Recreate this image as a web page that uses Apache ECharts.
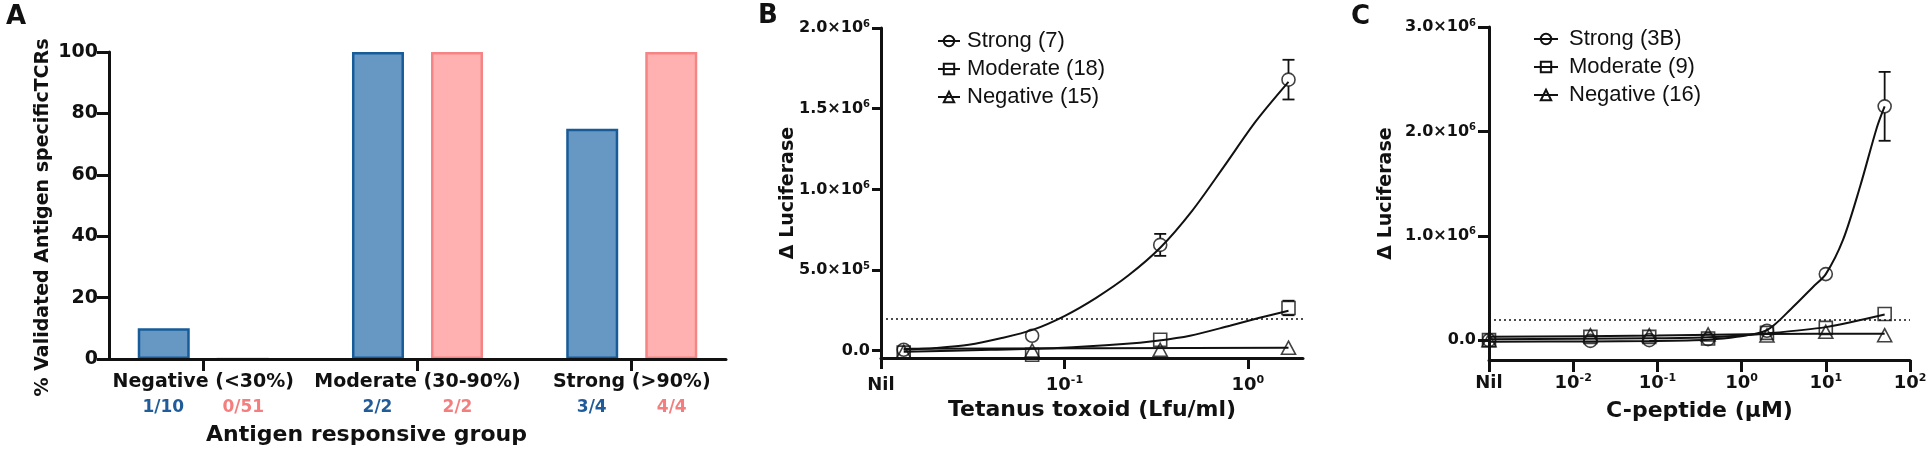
<!DOCTYPE html>
<html>
<head>
<meta charset="utf-8">
<script src="https://cdn.jsdelivr.net/npm/echarts@6/dist/echarts.min.js"></script>
<style>html,body{margin:0;padding:0;background:#fff}#c{width:1928px;height:458px}</style>
</head>
<body>
<div id="c"></div>
<script>
// ---------------- Panel A data ----------------
const groupNames = ['Negative (<30%)', 'Moderate (30-90%)', 'Strong (>90%)'];
const groupPos = [0, 1, 2];
const blueValues = [10, 100, 75];
const pinkValues = [0, 100, 100];
const blueFractions = ['1/10', '2/2', '3/4'];
const pinkFractions = ['0/51', '2/2', '4/4'];

// ---------------- Panel B data ----------------
const bNames = ['Strong (7)', 'Moderate (18)', 'Negative (15)'];
const bDoses = [0.0133, 0.0667, 0.333, 1.667];
const bStrong = [6e3, 9.3e4, 6.56e5, 1.68e6];
const bModerate = [-1.2e4, -2.5e4, 6.8e4, 2.65e5];
const bNegative = [-6e3, 2e3, 6e3, 1.9e4];
const bStrongErr = [0, 0, 6.8e4, 1.23e5];
const bModerateErr = [0, 0, 0, 4.5e4];
const bStrongFit = [[0.0133, 6e3], [0.0199, 1.7e4], [0.0301, 3.7e4], [0.0449, 7.7e4], [0.067, 1.29e5], [0.1, 2.15e5], [0.149, 3.28e5], [0.223, 4.66e5], [0.333, 6.38e5], [0.497, 8.67e5], [0.741, 1.141e6], [1.105, 1.421e6], [1.667, 1.666e6]];
const bModerateFit = [[0.0133, -6e3], [0.0396, 6e3], [0.0916, 1.7e4], [0.209, 4.1e4], [0.32, 6.2e4], [0.484, 9.3e4], [0.798, 1.55e5], [1.16, 2.04e5], [1.667, 2.48e5]];
const bNegativeFit = [[0.0133, 1.2e4], [1.667, 1.9e4]];
const bXTicks = [0.01, 0.1, 1];
const bXLabels = ['Nil', '10{sup|-1}', '10{sup|0}'];
const bYTicks = [0, 5e5, 1e6, 1.5e6, 2e6];
const bYLabels = ['0.0', '5.0×10{sup|5}', '1.0×10{sup|6}', '1.5×10{sup|6}', '2.0×10{sup|6}'];

// ---------------- Panel C data ----------------
const cNames = ['Strong (3B)', 'Moderate (9)', 'Negative (16)'];
const cDoses = [0.001, 0.016, 0.08, 0.4, 2, 10, 50];
const cStrong = [0, -7e3, 0, 1e4, 9e4, 6.33e5, 2.24e6];
const cModerate = [0, 3.2e4, 3.2e4, 1.6e4, 7e4, 1.18e5, 2.5e5];
const cNegative = [0, 4.8e4, 4.8e4, 5.5e4, 4.5e4, 8e4, 4.8e4];
const cStrongErr = [0, 0, 0, 0, 0, 0, 3.3e5];
const cStrongFit = [[0.001, -1.5e4], [0.016, -1.2e4], [0.08, -8e3], [0.4, 5e3], [0.88, 3.2e4], [2.0, 9.6e4], [4.1, 3.2e5], [7.05, 5.1e5], [10, 6.33e5], [16, 9.6e5], [25.5, 1.47e6], [40.5, 2.04e6], [50, 2.24e6]];
const cModerateFit = [[0.001, 8e3], [0.08, 1.8e4], [0.4, 2.8e4], [2, 6.5e4], [10, 1.25e5], [50, 2.45e5]];
const cNegativeFit = [[0.001, 3.2e4], [0.1, 4.4e4], [2, 5.8e4], [50, 6.2e4]];
const cXTicks = [0.001, 0.01, 0.1, 1, 10, 100];
const cXLabels = ['Nil', '10{sup|-2}', '10{sup|-1}', '10{sup|0}', '10{sup|1}', '10{sup|2}'];
const cYTicks = [0, 1e6, 2e6, 3e6];
const cYLabels = ['0.0', '1.0×10{sup|6}', '2.0×10{sup|6}', '3.0×10{sup|6}'];

const threshold = 2e5;

// ---------------- styling helpers ----------------
const BF = 'DejaVu Sans';
const ink = '#111';
const symbols = ['circle', 'rect', 'triangle'];
const symbolSizes = [13, 13, [14, 13]];

function nearestIdx(arr, v, log) {
  let best = 0, bd = Infinity;
  arr.forEach((a, i) => {
    const d = log ? Math.abs(Math.log10(a) - Math.log10(v)) : Math.abs(a - v);
    if (d < bd) { bd = d; best = i; }
  });
  return best;
}
function supRich(size) {
  return { sup: { fontSize: size, fontFamily: BF, fontWeight: 'bold', color: ink, verticalAlign: 'top', lineHeight: size } };
}
const axisLineStyle = { color: ink, width: 3 };
const nameStyle = { fontFamily: BF, fontWeight: 'bold', fontSize: 22, color: ink };

function errRender(params, api) {
  const x = api.value(0), y = api.value(1), e = api.value(2);
  const c = api.coord([x, y]);
  const t = api.coord([x, y + e]);
  const b = api.coord([x, y - e]);
  const hw = 6, r = 6.5;
  const st = { stroke: ink, lineWidth: 1.8 };
  const ch = [];
  if (c[1] - t[1] > r) ch.push({ type: 'line', shape: { x1: c[0], y1: t[1], x2: c[0], y2: c[1] - r }, style: st });
  if (b[1] - c[1] > r) ch.push({ type: 'line', shape: { x1: c[0], y1: c[1] + r, x2: c[0], y2: b[1] }, style: st });
  ch.push({ type: 'line', shape: { x1: c[0] - hw, y1: t[1], x2: c[0] + hw, y2: t[1] }, style: st });
  ch.push({ type: 'line', shape: { x1: c[0] - hw, y1: b[1], x2: c[0] + hw, y2: b[1] }, style: st });
  return { type: 'group', children: ch };
}

function fitSeries(name, data, k, axisIdx, withThreshold) {
  const s = {
    type: 'line', name: name, xAxisIndex: axisIdx, yAxisIndex: axisIdx,
    data: data, smooth: 0.3, symbol: symbols[k], symbolSize: symbolSizes[k], showSymbol: false,
    itemStyle: { color: 'rgba(255,255,255,0)', borderColor: ink, borderWidth: 1.6 },
    lineStyle: { color: ink, width: 2 }, silent: true, z: 2
  };
  if (withThreshold) {
    s.markLine = { silent: true, symbol: 'none', label: { show: false },
      lineStyle: { type: [2, 3], color: ink, width: 1.5 }, data: [{ yAxis: threshold }] };
  }
  return s;
}
function markerSeries(name, doses, vals, k, axisIdx) {
  return {
    type: 'scatter', name: name, xAxisIndex: axisIdx, yAxisIndex: axisIdx,
    data: doses.map((d, i) => [d, vals[i]]), symbol: symbols[k], symbolSize: symbolSizes[k],
    itemStyle: { color: 'rgba(255,255,255,0)', borderColor: ink, borderWidth: 1.6 }, silent: true, z: 3
  };
}
function errSeries(doses, vals, errs, axisIdx) {
  const d = [];
  doses.forEach((x, i) => { if (errs[i] > 0) d.push([x, vals[i], errs[i]]); });
  return { type: 'custom', xAxisIndex: axisIdx, yAxisIndex: axisIdx, renderItem: errRender,
    data: d, encode: { x: 0, y: 1 }, silent: true, z: 4, clip: false };
}

const chart = echarts.init(document.getElementById('c'));
const option = {
  animation: false,
  textStyle: { fontFamily: BF },
  title: [
    { text: 'A', left: 6, top: 4, padding: 0, textStyle: { fontSize: 26, fontWeight: 'bold', fontFamily: BF, color: ink } },
    { text: 'B', left: 758, top: 3, padding: 0, textStyle: { fontSize: 26, fontWeight: 'bold', fontFamily: BF, color: ink } },
    { text: 'C', left: 1351, top: 4, padding: 0, textStyle: { fontSize: 26, fontWeight: 'bold', fontFamily: BF, color: ink } }
  ],
  legend: [
    { data: bNames, orient: 'vertical', left: 937, top: 30, itemWidth: 22, itemHeight: 13, itemGap: 6, padding: 0,
      selectedMode: false, textStyle: { fontFamily: 'Liberation Sans', fontSize: 22, lineHeight: 22, color: ink, padding: [0, 0, 0, 2] } },
    { data: cNames, orient: 'vertical', left: 1533, top: 28, itemWidth: 24, itemHeight: 13, itemGap: 6, padding: 0,
      selectedMode: false, textStyle: { fontFamily: 'Liberation Sans', fontSize: 22, lineHeight: 22, color: ink, padding: [0, 0, 0, 6] } }
  ],
  grid: [
    { left: 109, top: 52, width: 617, height: 307, outerBoundsMode: 'none' },
    { left: 881, top: 28, width: 422, height: 330, outerBoundsMode: 'none' },
    { left: 1489, top: 27, width: 421, height: 333, outerBoundsMode: 'none' }
  ],
  xAxis: [
    { gridIndex: 0, type: 'value', min: -0.44, max: 2.44, z: 5,
      axisLine: { onZero: false, lineStyle: axisLineStyle },
      axisTick: { customValues: groupPos, length: 12, lineStyle: { color: ink, width: 3 } },
      axisLabel: { customValues: groupPos, margin: 11,
        formatter: v => { const i = Math.round(v); return '{c|' + groupNames[i] + '}\n{b|' + blueFractions[i] + '}{p|' + pinkFractions[i] + '}'; },
        rich: {
          c: { fontFamily: BF, fontWeight: 'bold', fontSize: 19, color: ink, lineHeight: 25 },
          b: { fontFamily: BF, fontWeight: 'bold', fontSize: 17, color: '#1F5C99', lineHeight: 25, width: 80, align: 'center' },
          p: { fontFamily: BF, fontWeight: 'bold', fontSize: 17, color: '#F47E7E', lineHeight: 25, width: 80, align: 'center' }
        } },
      splitLine: { show: false },
      name: 'Antigen responsive group', nameLocation: 'middle', nameGap: 65, nameMoveOverlap: false,
      nameTextStyle: Object.assign({ padding: [0, 102, 0, 0] }, nameStyle) },
    { gridIndex: 1, type: 'log', logBase: 10, min: 0.01, max: 2,
      axisLine: { onZero: false, lineStyle: axisLineStyle },
      axisTick: { customValues: bXTicks, length: 11, lineStyle: { color: ink, width: 3 } },
      axisLabel: { customValues: bXTicks, margin: 17, formatter: v => bXLabels[nearestIdx(bXTicks, v, true)],
        fontFamily: BF, fontWeight: 'bold', fontSize: 18, color: ink, lineHeight: 20, rich: supRich(11) },
      splitLine: { show: false }, minorTick: { show: false },
      name: 'Tetanus toxoid (Lfu/ml)', nameLocation: 'middle', nameGap: 41, nameMoveOverlap: false, nameTextStyle: nameStyle },
    { gridIndex: 2, type: 'log', logBase: 10, min: 0.001, max: 100,
      axisLine: { onZero: false, lineStyle: axisLineStyle },
      axisTick: { customValues: cXTicks, length: 12, lineStyle: { color: ink, width: 3 } },
      axisLabel: { customValues: cXTicks, margin: 13, formatter: v => cXLabels[nearestIdx(cXTicks, v, true)],
        fontFamily: BF, fontWeight: 'bold', fontSize: 18, color: ink, lineHeight: 20, rich: supRich(11) },
      splitLine: { show: false }, minorTick: { show: false },
      name: 'C-peptide (μM)', nameLocation: 'middle', nameGap: 40, nameMoveOverlap: false, nameTextStyle: nameStyle }
  ],
  yAxis: [
    { gridIndex: 0, type: 'value', min: 0, max: 100, interval: 20,
      axisLine: { show: true, onZero: false, lineStyle: axisLineStyle },
      axisTick: { show: true, length: 12, lineStyle: { color: ink, width: 3 } },
      axisLabel: { margin: 11, fontFamily: BF, fontWeight: 'bold', fontSize: 19, color: ink },
      splitLine: { show: false },
      name: '% Validated Antigen specificTCRs', nameLocation: 'middle', nameGap: 56, nameMoveOverlap: false,
      nameTextStyle: Object.assign({ fontSize: 19, padding: [0, 24, 0, 0] }, { fontFamily: BF, fontWeight: 'bold', color: ink }) },
    { gridIndex: 1, type: 'value', min: -45000, max: 2e6,
      axisLine: { show: true, onZero: false, lineStyle: axisLineStyle },
      axisTick: { show: true, customValues: bYTicks, length: 9, lineStyle: { color: ink, width: 3 } },
      axisLabel: { customValues: bYTicks, margin: 11, formatter: v => bYLabels[nearestIdx(bYTicks, v, false)],
        fontFamily: BF, fontWeight: 'bold', fontSize: 16, color: ink, lineHeight: 18, rich: supRich(10) },
      splitLine: { show: false },
      name: 'Δ Luciferase', nameLocation: 'middle', nameGap: 83, nameMoveOverlap: false,
      nameTextStyle: { fontFamily: BF, fontWeight: 'bold', fontSize: 19, color: ink } },
    { gridIndex: 2, type: 'value', min: -190000, max: 3e6,
      axisLine: { show: true, onZero: false, lineStyle: axisLineStyle },
      axisTick: { show: true, customValues: cYTicks, length: 11, lineStyle: { color: ink, width: 3 } },
      axisLabel: { customValues: cYTicks, margin: 13, formatter: v => cYLabels[nearestIdx(cYTicks, v, false)],
        fontFamily: BF, fontWeight: 'bold', fontSize: 16, color: ink, lineHeight: 18, rich: supRich(10) },
      splitLine: { show: false },
      name: 'Δ Luciferase', nameLocation: 'middle', nameGap: 93, nameMoveOverlap: false,
      nameTextStyle: { fontFamily: BF, fontWeight: 'bold', fontSize: 19, color: ink } }
  ],
  series: [
    { type: 'bar', xAxisIndex: 0, yAxisIndex: 0, data: groupPos.map((p, i) => [p, blueValues[i]]),
      barWidth: 52, barGap: '52%', silent: true,
      itemStyle: { color: '#6698C3', borderColor: '#175C99', borderWidth: 2.5 } },
    { type: 'bar', xAxisIndex: 0, yAxisIndex: 0, data: groupPos.map((p, i) => [p, pinkValues[i]]),
      barWidth: 52, barGap: '52%', silent: true,
      itemStyle: { color: '#FFB1B1', borderColor: '#F58585', borderWidth: 2.5 } },

    fitSeries(bNames[0], bStrongFit, 0, 1, true),
    fitSeries(bNames[1], bModerateFit, 1, 1, false),
    fitSeries(bNames[2], bNegativeFit, 2, 1, false),
    markerSeries(bNames[0], bDoses, bStrong, 0, 1),
    markerSeries(bNames[1], bDoses, bModerate, 1, 1),
    markerSeries(bNames[2], bDoses, bNegative, 2, 1),
    errSeries(bDoses, bStrong, bStrongErr, 1),
    errSeries(bDoses, bModerate, bModerateErr, 1),

    fitSeries(cNames[0], cStrongFit, 0, 2, true),
    fitSeries(cNames[1], cModerateFit, 1, 2, false),
    fitSeries(cNames[2], cNegativeFit, 2, 2, false),
    markerSeries(cNames[0], cDoses, cStrong, 0, 2),
    markerSeries(cNames[1], cDoses, cModerate, 1, 2),
    markerSeries(cNames[2], cDoses, cNegative, 2, 2),
    errSeries(cDoses, cStrong, cStrongErr, 2)
  ]
};
chart.setOption(option);
</script>
</body>
</html>
